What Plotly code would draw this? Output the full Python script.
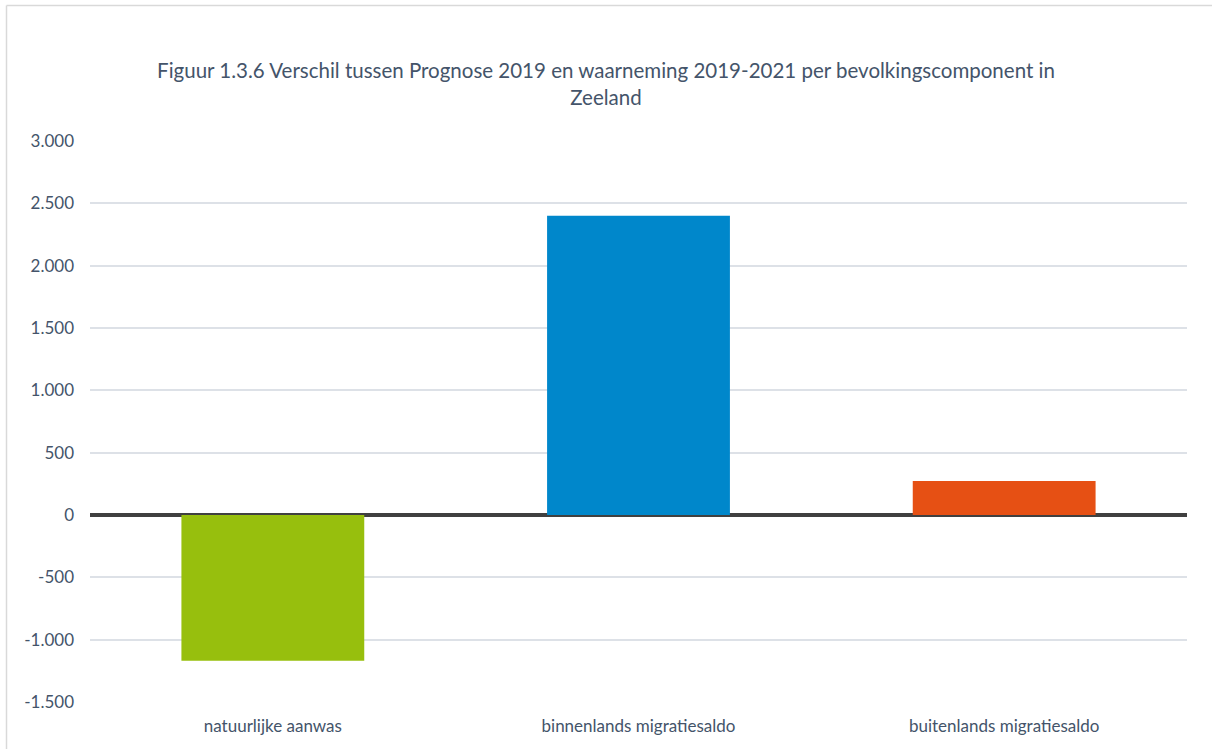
import plotly.graph_objects as go

categories = ["natuurlijke aanwas", "binnenlands migratiesaldo", "buitenlands migratiesaldo"]
values = [-1170, 2400, 272]
colors = ["#97BF0D", "#0087CB", "#E65014"]
tick_vals = [-1500, -1000, -500, 0, 500, 1000, 1500, 2000, 2500, 3000]
tick_text = ["-1.500", "-1.000", "-500", "0", "500", "1.000", "1.500", "2.000", "2.500", "3.000"]
title = "Figuur 1.3.6 Verschil tussen Prognose 2019 en waarneming 2019-2021 per bevolkingscomponent in<br>Zeeland"

W, H = 1212, 749
ml, mr, mt, mb = 90, 25, 141, 47
pw, ph = W - ml - mr, H - mt - mb

fig = go.Figure(go.Bar(
    x=categories, y=values, marker_color=colors, width=0.5, marker_line_width=0,
))

font_color = "#44546A"
fig.update_layout(
    width=W, height=H,
    margin=dict(l=ml, r=mr, t=mt, b=mb),
    paper_bgcolor="white", plot_bgcolor="white",
    font=dict(family="Lato, Open Sans, sans-serif", color=font_color),
    title=dict(text=title, x=0.5, xanchor="center", y=1 - 78 / H, yanchor="middle",
               font=dict(size=20.5, color=font_color)),
    showlegend=False,
    bargap=0.5,
    xaxis=dict(showgrid=False, showline=False, ticks="", tickfont=dict(size=17, color=font_color),
               ticklabelstandoff=12),
    yaxis=dict(range=[-1500, 3000], tickvals=tick_vals, ticktext=tick_text,
               showgrid=True, gridcolor="#DDE1E7", gridwidth=1.5,
               zeroline=True, zerolinecolor="#404040", zerolinewidth=4,
               showline=False, ticks="", tickfont=dict(size=17, color=font_color),
               ticklabelstandoff=15),
)

# chart border (top and left edges visible in reference)
x_left = (6.5 - ml) / pw
y_top = 1 + (mt - 5.5) / ph
fig.add_shape(type="line", xref="paper", yref="paper", x0=x_left, x1=x_left, y0=y_top, y1=-0.2,
              line=dict(color="#D9D9D9", width=1.5))
fig.add_shape(type="line", xref="paper", yref="paper", x0=x_left, x1=1.1, y0=y_top, y1=y_top,
              line=dict(color="#D9D9D9", width=1.5))

fig.write_html("out.html", config={"displayModeBar": False},
               post_script="document.body.style.margin='0px';document.body.style.overflow='hidden';")
